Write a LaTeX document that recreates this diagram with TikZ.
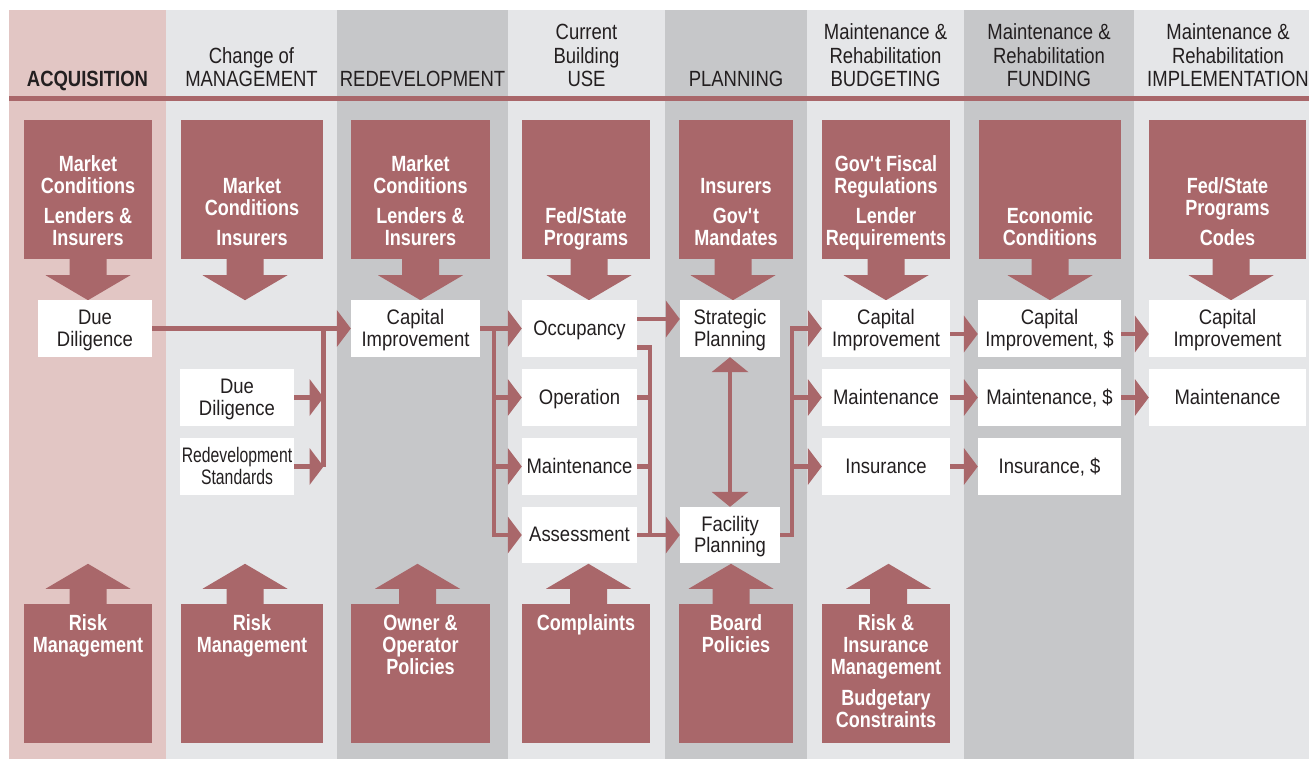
\documentclass[tikz,border=0pt]{standalone}
\usepackage{fontspec}
\newfontfamily\hdfont{Liberation Sans}[FakeStretch=0.84]
\newfontfamily\boxfont{Liberation Sans}[FakeStretch=0.82]
\newfontfamily\wfont{Liberation Sans}[FakeStretch=0.88]
\newfontfamily\nwfont{Liberation Sans}[FakeStretch=0.75]
\newcommand{\hstr}{\rule{0pt}{20.2pt}}
\newcommand{\dstr}{\rule[-6.6pt]{0pt}{6.6pt}}
\usetikzlibrary{arrows.meta}
\definecolor{rbrown}{RGB}{169,103,106}
\definecolor{pinkbg}{RGB}{226,198,196}
\definecolor{litebg}{RGB}{229,230,232}
\definecolor{darkbg}{RGB}{198,199,201}
\definecolor{inkc}{RGB}{35,31,32}
\tikzset{
  redbox/.style={fill=rbrown, inner sep=0pt, minimum height=139pt},
  rtext/.style={text=white, align=center, inner sep=0pt, font=\boxfont\bfseries\fontsize{22}{22}\selectfont},
  wbox/.style={fill=white, inner sep=0pt, minimum height=57pt, align=center, text=inkc, font=\wfont\fontsize{21}{21.5}\selectfont},
  hdtext/.style={anchor=south, align=center, inner sep=0pt, text=inkc, font=\hdfont\fontsize{22}{23.5}\selectfont},
  wire/.style={draw=rbrown, line width=4.5pt},
  wirearr/.style={wire, -{Triangle[length=14pt,width=37pt,line width=0pt]}},
  wirebi/.style={wire, {Triangle[length=15pt,width=37pt,line width=0pt]}-{Triangle[length=15pt,width=37pt,line width=0pt]}}
}
\begin{document}
\begin{tikzpicture}[x=1pt,y=-1pt]
\useasboundingbox (0,0) rectangle (1309,759);
\fill[pinkbg] (9,10) rectangle (166,759);
\fill[litebg] (166,10) rectangle (337,759);
\fill[darkbg] (337,10) rectangle (508,759);
\fill[litebg] (508,10) rectangle (665,759);
\fill[darkbg] (665,10) rectangle (807,759);
\fill[litebg] (807,10) rectangle (964,759);
\fill[darkbg] (964,10) rectangle (1134,759);
\fill[litebg] (1134,10) rectangle (1309,759);
\fill[rbrown] (9,96.5) rectangle (1309,101.5);
\node[hdtext] (h1) at (87.5,94) {\bfseries ACQUISITION\strut};
\node[hdtext] (h2) at (251.5,94) {Change of\\MANAGEMENT\strut};
\node[hdtext] (h3) at (422.5,94) {REDEVELOPMENT\strut};
\node[hdtext] (h4) at (586.5,94) {Current\\Building\\USE\strut};
\node[hdtext] (h5) at (736,94) {PLANNING\strut};
\node[hdtext] (h6) at (885.5,94) {Maintenance \&\\Rehabilitation\\BUDGETING\strut};
\node[hdtext] (h7) at (1049,94) {Maintenance \&\\Rehabilitation\\FUNDING\strut};
\node[hdtext] (h8) at (1228,94) {Maintenance \&\\Rehabilitation\\IMPLEMENTATION\strut};
\node[redbox, minimum width=128pt] (c1) at (88,189.5) {};
\node[redbox, minimum width=142pt] (c2) at (252,189.5) {};
\node[redbox, minimum width=139pt] (c3) at (420.5,189.5) {};
\node[redbox, minimum width=128pt] (c4) at (586,189.5) {};
\node[redbox, minimum width=114pt] (c5) at (736,189.5) {};
\node[redbox, minimum width=128pt] (c6) at (886,189.5) {};
\node[redbox, minimum width=142pt] (c7) at (1050,189.5) {};
\node[redbox, minimum width=157pt] (c8) at (1227.5,189.5) {};
\node[redbox, minimum width=128pt] (b1) at (88,673.5) {};
\node[redbox, minimum width=142pt] (b2) at (252,673.5) {};
\node[redbox, minimum width=139pt] (b3) at (420.5,673.5) {};
\node[redbox, minimum width=128pt] (b4) at (586,673.5) {};
\node[redbox, minimum width=114pt] (b5) at (736,673.5) {};
\node[redbox, minimum width=128pt] (b6) at (886,673.5) {};
\fill[rbrown] ([xshift=-18.5pt,yshift=1pt]c1.south) -- ++(0,17) -- ++(-24,0) -- ++(42.5,25) -- ++(42.5,-25) -- ++(-24,0) -- ++(0,-17) -- cycle;
\fill[rbrown] ([xshift=-25.5pt,yshift=1pt]c2.south) -- ++(0,17) -- ++(-24,0) -- ++(42.5,25) -- ++(42.5,-25) -- ++(-24,0) -- ++(0,-17) -- cycle;
\fill[rbrown] ([xshift=-18.5pt,yshift=1pt]c3.south) -- ++(0,17) -- ++(-24,0) -- ++(42.5,25) -- ++(42.5,-25) -- ++(-24,0) -- ++(0,-17) -- cycle;
\fill[rbrown] ([xshift=-15.5pt,yshift=1pt]c4.south) -- ++(0,17) -- ++(-24,0) -- ++(42.5,25) -- ++(42.5,-25) -- ++(-24,0) -- ++(0,-17) -- cycle;
\fill[rbrown] ([xshift=-21.5pt,yshift=1pt]c5.south) -- ++(0,17) -- ++(-24,0) -- ++(42.5,25) -- ++(42.5,-25) -- ++(-24,0) -- ++(0,-17) -- cycle;
\fill[rbrown] ([xshift=-18.5pt,yshift=1pt]c6.south) -- ++(0,17) -- ++(-24,0) -- ++(42.5,25) -- ++(42.5,-25) -- ++(-24,0) -- ++(0,-17) -- cycle;
\fill[rbrown] ([xshift=-18.5pt,yshift=1pt]c7.south) -- ++(0,17) -- ++(-24,0) -- ++(42.5,25) -- ++(42.5,-25) -- ++(-24,0) -- ++(0,-17) -- cycle;
\fill[rbrown] ([xshift=-15pt,yshift=1pt]c8.south) -- ++(0,17) -- ++(-24,0) -- ++(42.5,25) -- ++(42.5,-25) -- ++(-24,0) -- ++(0,-17) -- cycle;
\fill[rbrown] ([xshift=-18.5pt,yshift=-1pt]b1.north) -- ++(0,-16) -- ++(-24,0) -- ++(42.5,-25) -- ++(42.5,25) -- ++(-24,0) -- ++(0,16) -- cycle;
\fill[rbrown] ([xshift=-25.5pt,yshift=-1pt]b2.north) -- ++(0,-16) -- ++(-24,0) -- ++(42.5,-25) -- ++(42.5,25) -- ++(-24,0) -- ++(0,16) -- cycle;
\fill[rbrown] ([xshift=-21.5pt,yshift=-1pt]b3.north) -- ++(0,-16) -- ++(-24,0) -- ++(42.5,-25) -- ++(42.5,25) -- ++(-24,0) -- ++(0,16) -- cycle;
\fill[rbrown] ([xshift=-16pt,yshift=-1pt]b4.north) -- ++(0,-16) -- ++(-24,0) -- ++(42.5,-25) -- ++(42.5,25) -- ++(-24,0) -- ++(0,16) -- cycle;
\fill[rbrown] ([xshift=-23.5pt,yshift=-1pt]b5.north) -- ++(0,-16) -- ++(-24,0) -- ++(42.5,-25) -- ++(42.5,25) -- ++(-24,0) -- ++(0,16) -- cycle;
\fill[rbrown] ([xshift=-16pt,yshift=-1pt]b6.north) -- ++(0,-16) -- ++(-24,0) -- ++(42.5,-25) -- ++(42.5,25) -- ++(-24,0) -- ++(0,16) -- cycle;
\node[rtext, anchor=south] (c1t) at ([yshift=7pt]c1.south) {Market\\Conditions\\[8pt]Lenders \&\\Insurers\dstr};
\node[rtext, anchor=south] (c2t) at ([yshift=7pt]c2.south) {Market\\Conditions\\[8pt]Insurers\dstr};
\node[rtext, anchor=south] (c3t) at ([yshift=7pt]c3.south) {Market\\Conditions\\[8pt]Lenders \&\\Insurers\dstr};
\node[rtext, anchor=south] (c4t) at ([yshift=7pt]c4.south) {Fed/State\\Programs\dstr};
\node[rtext, anchor=south] (c5t) at ([yshift=7pt]c5.south) {Insurers\\[8pt]Gov\textquotesingle t\\Mandates\dstr};
\node[rtext, anchor=south] (c6t) at ([yshift=7pt]c6.south) {Gov\textquotesingle t Fiscal\\Regulations\\[8pt]Lender\\Requirements\dstr};
\node[rtext, anchor=south] (c7t) at ([yshift=7pt]c7.south) {Economic\\Conditions\dstr};
\node[rtext, anchor=south] (c8t) at ([yshift=7pt]c8.south) {Fed/State\\Programs\\[8pt]Codes\dstr};
\node[rtext, anchor=north] (b1t) at ([yshift=-11pt]b1.north) {Risk\\Management};
\node[rtext, anchor=north] (b2t) at ([yshift=-11pt]b2.north) {Risk\\Management};
\node[rtext, anchor=north] (b3t) at ([yshift=-11pt]b3.north) {Owner \&\\Operator\\Policies};
\node[rtext, anchor=north] (b4t) at ([yshift=-11pt]b4.north) {Complaints};
\node[rtext, anchor=north] (b5t) at ([yshift=-11pt]b5.north) {Board\\Policies};
\node[rtext, anchor=north] (b6t) at ([yshift=-11pt]b6.north) {Risk \&\\Insurance\\Management\\[9pt]Budgetary\\Constraints};
\node[wbox, minimum width=114pt] (d1) at (95,328.5) {\hstr Due\\Diligence\dstr};
\node[wbox, minimum width=114pt] (d2) at (237,397.5) {\hstr Due\\Diligence\dstr};
\node[wbox, minimum width=114pt, font=\nwfont\fontsize{21}{21.5}\selectfont] (rs) at (237,466.5) {\hstr Redevelopment\\Standards\dstr};
\node[wbox, minimum width=129pt] (ci3) at (415.5,328.5) {\hstr Capital\\Improvement\dstr};
\node[wbox, minimum width=115pt] (occ) at (579.5,328.5) {\hstr Occupancy\dstr};
\node[wbox, minimum width=115pt] (opr) at (579.5,397.5) {\hstr Operation\dstr};
\node[wbox, minimum width=115pt] (mnt4) at (579.5,466.5) {\hstr Maintenance\dstr};
\node[wbox, minimum width=115pt, minimum height=56pt] (asm) at (579.5,535) {\hstr Assessment\dstr};
\node[wbox, minimum width=100pt] (sp) at (730,328.5) {\hstr Strategic\\Planning\dstr};
\node[wbox, minimum width=100pt, minimum height=56pt] (fp) at (730,535) {\hstr Facility\\Planning\dstr};
\node[wbox, minimum width=128pt] (ci6) at (886,328.5) {\hstr Capital\\Improvement\dstr};
\node[wbox, minimum width=128pt] (mn6) at (886,397.5) {\hstr Maintenance\dstr};
\node[wbox, minimum width=128pt] (ins6) at (886,466.5) {\hstr Insurance\dstr};
\node[wbox, minimum width=143pt] (ci7) at (1049.5,328.5) {\hstr Capital\\Improvement, \$\dstr};
\node[wbox, minimum width=143pt] (mn7) at (1049.5,397.5) {\hstr Maintenance, \$\dstr};
\node[wbox, minimum width=143pt] (ins7) at (1049.5,466.5) {\hstr Insurance, \$\dstr};
\node[wbox, minimum width=157pt] (ci8) at (1227.5,328.5) {\hstr Capital\\Improvement\dstr};
\node[wbox, minimum width=157pt] (mn8) at (1227.5,397.5) {\hstr Maintenance\dstr};
\coordinate (t2) at (323.5,328.5);
\coordinate (t3) at (494,328.5);
\coordinate (t4) at (650,535);
\coordinate (t5) at (792,328.5);
\path[wirearr] (d1.east) -- (ci3.west);
\path[wire] (t2) -- (t2 |- rs.east);
\path[wirearr] (d2.east) -- (d2.east -| t2);
\path[wirearr] (rs.east) -- (rs.east -| t2);
\path[wirearr] (ci3.east) -- (occ.west);
\path[wirearr] (t3) |- (asm.west);
\path[wirearr] (opr.west -| t3) -- (opr.west);
\path[wirearr] (mnt4.west -| t3) -- (mnt4.west);
\path[wirearr] ([yshift=9.5pt]occ.east) -- ([yshift=9.5pt]sp.west);
\path[wirearr] ([yshift=-19pt]occ.east) -| (t4) -- (fp.west);
\path[wire] (opr.east) -- (opr.east -| t4);
\path[wire] (mnt4.east) -- (mnt4.east -| t4);
\path[wire] (asm.east) -- (t4);
\path[wirebi] (sp.south) -- (fp.north);
\path[wirearr] (fp.east) -| (t5) -- (ci6.west);
\path[wirearr] (mn6.west -| t5) -- (mn6.west);
\path[wirearr] (ins6.west -| t5) -- (ins6.west);
\path[wirearr] ([yshift=-5.5pt]ci6.east) -- ([yshift=-5.5pt]ci7.west);
\path[wirearr] (mn6.east) -- (mn7.west);
\path[wirearr] (ins6.east) -- (ins7.west);
\path[wirearr] ([yshift=-5.5pt]ci7.east) -- ([yshift=-5.5pt]ci8.west);
\path[wirearr] (mn7.east) -- (mn8.west);
\end{tikzpicture}
\end{document}
